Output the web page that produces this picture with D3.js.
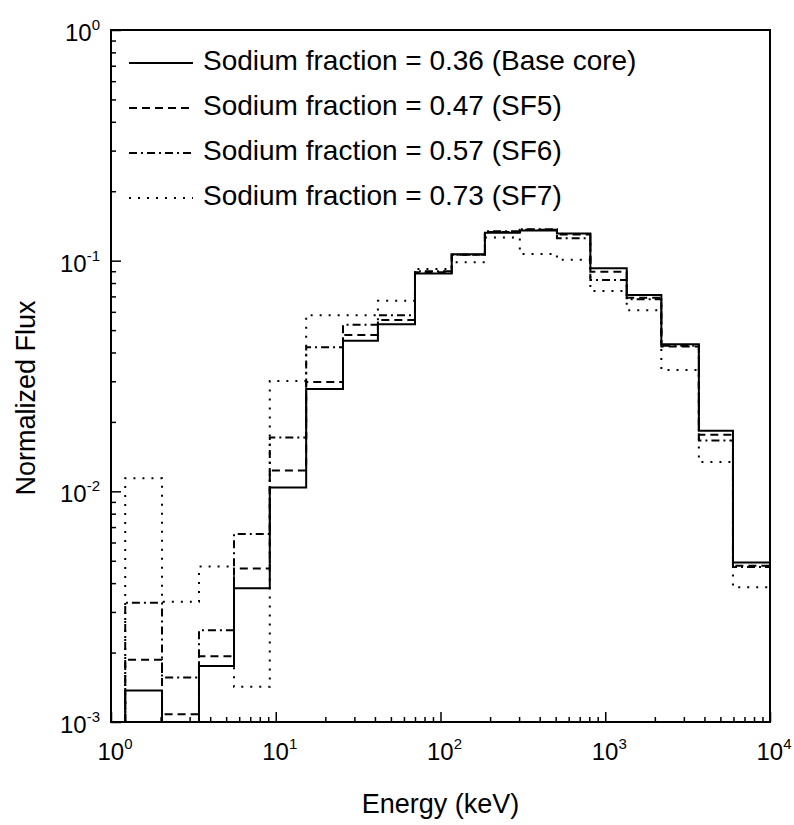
<!DOCTYPE html>
<html>
<head>
<meta charset="utf-8">
<script src="https://cdn.jsdelivr.net/npm/d3@7"></script>
<style>
  body { margin: 0; background: #fff; }
  svg { font-family: Arial, "Liberation Sans", sans-serif; }
</style>
</head>
<body>
<svg id="chart" width="794" height="825"></svg>
<script>
// energy group boundaries (keV)
var edges = [1.22, 2.04, 3.42, 5.58, 9.2, 15.3, 25.6, 41.7, 70, 117, 186, 303, 509, 812, 1350, 2190, 3700, 5960, 10000];

var baseCore = [1.37e-3, 8e-4, 1.75e-3, 3.8e-3, 1.04e-2, 2.78e-2, 4.5e-2, 5.3e-2, 0.088, 0.1066, 0.132, 0.135, 0.131, 0.0927, 0.071, 0.0434, 0.0183, 4.92e-3];
var sf5 = [1.86e-3, 1.08e-3, 1.93e-3, 4.63e-3, 1.23e-2, 2.98e-2, 4.76e-2, 5.53e-2, 0.089, 0.106, 0.133, 0.136, 0.13, 0.0896, 0.069, 0.0425, 0.0176, 4.76e-3];
var sf6 = [3.29e-3, 1.56e-3, 2.5e-3, 6.53e-3, 1.71e-2, 4.21e-2, 5.27e-2, 5.8e-2, 0.09, 0.106, 0.134, 0.137, 0.125, 0.0825, 0.068, 0.0428, 0.0166, 4.7e-3];
var sf7 = [1.14e-2, 3.32e-3, 4.72e-3, 1.42e-3, 3.01e-2, 5.8e-2, 5.8e-2, 6.7e-2, 0.092, 0.0984, 0.126, 0.107, 0.101, 0.0739, 0.061, 0.0336, 0.0134, 3.84e-3];

var labels = ["Sodium fraction = 0.36 (Base core)",
              "Sodium fraction = 0.47 (SF5)",
              "Sodium fraction = 0.57 (SF6)",
              "Sodium fraction = 0.73 (SF7)"];
var dashes = [null, "8,5", "8,4,2,4", "2,7"];

var xExp = [0, 1, 2, 3, 4];
var yExp = [0, -1, -2, -3];

var svg = d3.select('#chart');

var x0 = 111, x1 = 770, y0 = 30, y1 = 722;

var x = d3.scaleLog().domain([1, 1e4]).range([x0, x1]);
var y = d3.scaleLog().domain([1e-3, 1]).range([y1, y0]);

var series = [baseCore, sf5, sf6, sf7];

svg.append("clipPath").attr("id", "clip")
    .append("rect")
    .attr("x", x0).attr("y", y0)
    .attr("width", x1 - x0).attr("height", y1 - y0);

var line = d3.line()
    .x(function(d){ return x(d[0]); })
    .y(function(d){ return y(d[1]); });

function stepPoints(vals) {
    var pts = [[edges[0], 1e-3]];
    for (var i = 0; i < vals.length; i++) {
        pts.push([edges[i], vals[i]]);
        pts.push([edges[i+1], vals[i]]);
    }
    pts.push([edges[edges.length-1], 1e-3]);
    return pts;
}

svg.append("g").attr("clip-path", "url(#clip)")
    .selectAll("path")
    .data(series)
    .enter()
    .append("path")
    .attr("d", function(d){ return line(stepPoints(d)); })
    .attr("fill", "none")
    .attr("stroke", "black")
    .attr("stroke-width", 2)
    .attr("stroke-dasharray", function(d, i){ return dashes[i]; });

// minor / major ticks
var minors = [];
for (var e = 0; e < 4; e++) {
    for (var k = 2; k <= 9; k++) minors.push(k * Math.pow(10, e));
}
var yMinors = [];
for (var e = -3; e < 0; e++) {
    for (var k = 2; k <= 9; k++) yMinors.push(k * Math.pow(10, e));
}

function axisStyle(g) {
    g.select(".domain").remove();
    g.selectAll("line").attr("stroke", "black").attr("stroke-width", 1.5);
}

svg.append("g").attr("transform", "translate(0," + y1 + ")")
    .call(d3.axisBottom(x).tickValues(xExp.map(function(p){ return Math.pow(10, p); })).tickSize(-10).tickFormat(""))
    .call(axisStyle);
svg.append("g").attr("transform", "translate(0," + y1 + ")")
    .call(d3.axisBottom(x).tickValues(minors).tickSize(-5).tickFormat(""))
    .call(axisStyle);
svg.append("g").attr("transform", "translate(" + x0 + ",0)")
    .call(d3.axisLeft(y).tickValues(yExp.map(function(p){ return Math.pow(10, p); })).tickSize(-10).tickFormat(""))
    .call(axisStyle);
svg.append("g").attr("transform", "translate(" + x0 + ",0)")
    .call(d3.axisLeft(y).tickValues(yMinors).tickSize(-5).tickFormat(""))
    .call(axisStyle);

// frame
svg.append("rect")
    .attr("x", x0).attr("y", y0)
    .attr("width", x1 - x0).attr("height", y1 - y0)
    .attr("fill", "none").attr("stroke", "black").attr("stroke-width", 2);

// tick labels
function powLabel(sel, p) {
    sel.append("tspan").text("10");
    sel.append("tspan").attr("font-size", 15).attr("dy", -11).text(p);
}

xExp.forEach(function(p){
    svg.append("text")
        .attr("x", x(Math.pow(10, p)) + 4)
        .attr("y", y1 + 38)
        .attr("text-anchor", "middle")
        .attr("font-size", 24)
        .call(powLabel, p);
});

yExp.forEach(function(p){
    svg.append("text")
        .attr("x", 100)
        .attr("y", y(Math.pow(10, p)) + 11)
        .attr("text-anchor", "end")
        .attr("font-size", 24)
        .call(powLabel, p);
});

// axis titles
svg.append("text")
    .attr("x", (x0 + x1) / 2)
    .attr("y", 813)
    .attr("text-anchor", "middle")
    .attr("font-size", 27)
    .text("Energy (keV)");

svg.append("text")
    .attr("transform", "translate(35,398) rotate(-90)")
    .attr("text-anchor", "middle")
    .attr("font-size", 27)
    .text("Normalized Flux");

// legend
var legend = svg.append("g");
labels.forEach(function(t, i){
    var yy = 63 + i * 45;
    legend.append("line")
        .attr("x1", 129).attr("x2", 193)
        .attr("y1", yy).attr("y2", yy)
        .attr("stroke", "black").attr("stroke-width", 2)
        .attr("stroke-dasharray", dashes[i]);
    legend.append("text")
        .attr("x", 203).attr("y", yy + 7)
        .attr("font-size", 28)
        .text(t);
});
</script>
</body>
</html>
